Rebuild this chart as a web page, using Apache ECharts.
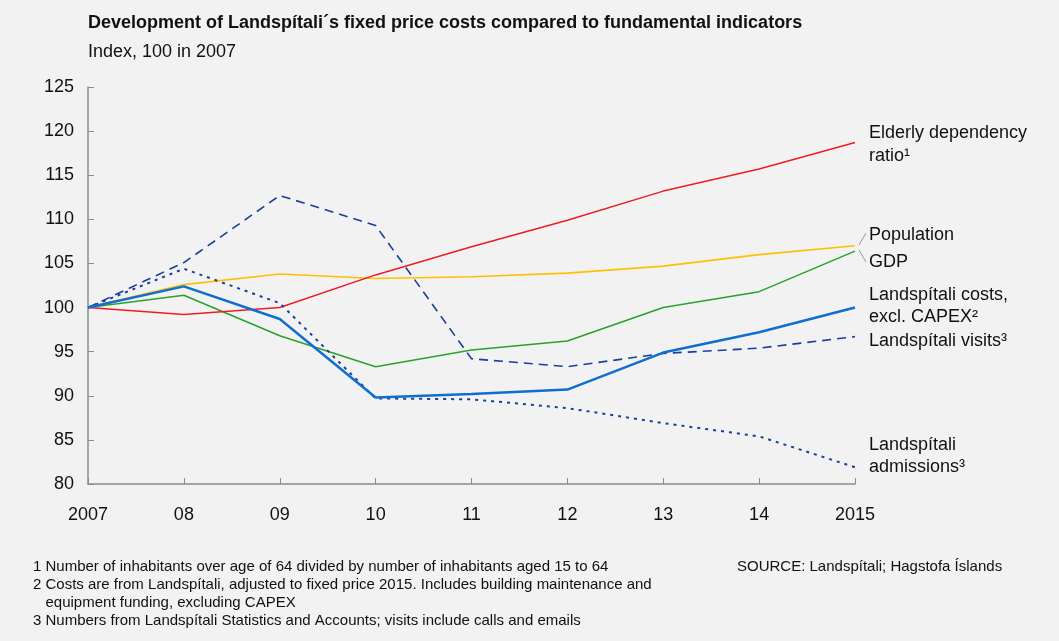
<!DOCTYPE html>
<html><head><meta charset="utf-8">
<script src="https://cdn.jsdelivr.net/npm/echarts@6/dist/echarts.min.js"></script>
<style>html,body{margin:0;padding:0;background:#f2f2f2;}#c{width:1059px;height:641px;}</style>
</head><body><div id="c"></div>
<script>
const years = ['2007','08','09','10','11','12','13','14','2015'];
const elderly = [100, 99.2, 100.0, 103.7, 106.9, 109.9, 113.2, 115.7, 118.7];
const population = [100, 102.6, 103.8, 103.3, 103.5, 103.9, 104.7, 106.0, 107.0];
const gdp = [100, 101.4, 96.8, 93.3, 95.2, 96.2, 100.0, 101.8, 106.4];
const costs = [100, 102.4, 98.7, 89.8, 90.2, 90.7, 94.9, 97.2, 100.0];
const visits = [100, 105.1, 112.7, 109.3, 94.2, 93.3, 94.8, 95.4, 96.7];
const admissions = [100, 104.4, 100.5, 89.7, 89.6, 88.6, 86.9, 85.4, 81.9];
const yTicks = [80, 85, 90, 95, 100, 105, 110, 115, 120, 125];

const font = '"Liberation Sans", Arial, sans-serif';
const chart = echarts.init(document.getElementById('c'), null, {renderer:'canvas'});
function s(name, data, color, width, type){
  return {name, type:'line', data, symbol:'none', silent:true, animation:false,
    lineStyle:{color, width, type}, z: 3};
}
const txt = (x,y,text,opts={}) => ({type:'text', left:x, top:y, silent:true,
  style:Object.assign({text, font:'18px '+font, fill:'#111'}, opts)});
const fn = '15px '+font;
chart.setOption({
  backgroundColor:'#f2f2f2',
  animation:false,
  grid:{left:88, right:204, top:87, bottom:157, containLabel:false},
  xAxis:{type:'category', data:years, boundaryGap:false,
    axisLine:{lineStyle:{color:'#8c8c8c', width:1.5}},
    axisTick:{inside:true, length:6, alignWithLabel:true, lineStyle:{color:'#8c8c8c'}},
    axisLabel:{color:'#111', fontSize:18, fontFamily:font, margin:22, interval:0},
    splitLine:{show:false}},
  yAxis:{type:'value', min:yTicks[0], max:yTicks[yTicks.length-1], interval:5,
    axisLine:{show:true, lineStyle:{color:'#8c8c8c', width:1.5}},
    axisTick:{show:true, inside:true, length:6, lineStyle:{color:'#8c8c8c'}},
    axisLabel:{color:'#111', fontSize:18, fontFamily:font, margin:14},
    splitLine:{show:false}},
  series:[
    s('Population', population, '#ffc000', 1.6, 'solid'),
    s('GDP', gdp, '#2ca02c', 1.5, 'solid'),
    s('Elderly', elderly, '#ee1c25', 1.5, 'solid'),
    s('Admissions', admissions, '#1a3f9a', 2, [3,5]),
    s('Visits', visits, '#1a3f9a', 1.6, [9,6]),
    s('Costs', costs, '#0f6fd0', 2.5, 'solid')
  ],
  graphic:[
    txt(88, 14, 'Development of Landspítali´s fixed price costs compared to fundamental indicators', {font:'bold 18px '+font}),
    txt(88, 43, 'Index, 100 in 2007', {font:'18px '+font}),
    txt(869, 122, 'Elderly dependency\nratio¹', {lineHeight:23}),
    txt(869, 226, 'Population'),
    txt(869, 253, 'GDP'),
    txt(869, 284, 'Landspítali costs,\nexcl. CAPEX²', {lineHeight:22}),
    txt(869, 332, 'Landspítali visits³'),
    txt(869, 434, 'Landspítali\nadmissions³', {lineHeight:22}),
    {type:'line', silent:true, shape:{x1:859,y1:245,x2:866,y2:233}, style:{stroke:'#999', lineWidth:1}},
    {type:'line', silent:true, shape:{x1:859,y1:250,x2:866,y2:262}, style:{stroke:'#999', lineWidth:1}},
    txt(33, 559, '1 Number of inhabitants over age of 64 divided by number of inhabitants aged 15 to 64', {font:fn}),
    txt(33, 577, '2 Costs are from Landspítali, adjusted to fixed price 2015. Includes building maintenance and', {font:fn}),
    txt(33, 595, '   equipment funding, excluding CAPEX', {font:fn}),
    txt(33, 613, '3 Numbers from Landspítali Statistics and Accounts; visits include calls and emails', {font:fn}),
    txt(737, 559, 'SOURCE: Landspítali; Hagstofa Íslands', {font:fn})
  ]
});
</script></body></html>
